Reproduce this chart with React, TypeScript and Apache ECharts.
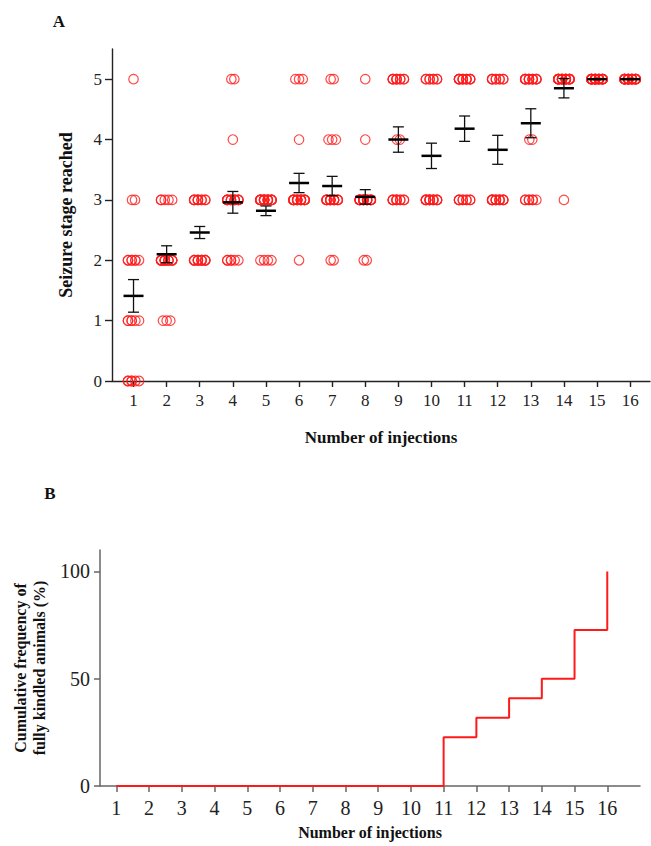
import React, { useEffect, useRef } from "react";
import * as echarts from "echarts";

const injections = [1, 2, 3, 4, 5, 6, 7, 8, 9, 10, 11, 12, 13, 14, 15, 16];
const stages = [0, 1, 2, 3, 4, 5];
// number of animals at each seizure stage (0..5) for each injection
const stageCounts = [
  [6, 6, 7, 2, 0, 1],
  [0, 3, 14, 5, 0, 0],
  [0, 0, 12, 10, 0, 0],
  [0, 0, 6, 13, 1, 2],
  [0, 0, 4, 18, 0, 0],
  [0, 0, 1, 17, 1, 3],
  [0, 0, 2, 15, 3, 2],
  [0, 0, 2, 18, 1, 1],
  [0, 0, 0, 10, 2, 10],
  [0, 0, 0, 14, 0, 8],
  [0, 0, 0, 9, 0, 13],
  [0, 0, 0, 13, 0, 9],
  [0, 0, 0, 7, 2, 13],
  [0, 0, 0, 1, 0, 21],
  [0, 0, 0, 0, 0, 22],
  [0, 0, 0, 0, 0, 22],
];
const meanStage = [1.41, 2.1, 2.46, 2.96, 2.82, 3.28, 3.23, 3.05, 4.0, 3.73, 4.18, 3.83, 4.27, 4.85, 5, 5];
const semStage = [0.27, 0.14, 0.1, 0.18, 0.08, 0.16, 0.16, 0.12, 0.21, 0.21, 0.21, 0.24, 0.24, 0.16, 0, 0];
const cumulativePct = [0, 0, 0, 0, 0, 0, 0, 0, 0, 0, 22.7, 31.8, 40.9, 50, 72.7, 100];
const stageTicks = [0, 1, 2, 3, 4, 5];
const pctTicks = [0, 50, 100];

const SERIF = "'Liberation Serif', 'Times New Roman', serif";
const RED = "#ff1a1a";

export default function App() {
  const ref = useRef<HTMLDivElement>(null);
  useEffect(() => {
    if (!ref.current) return;
    const chart = echarts.init(ref.current, null, { renderer: "svg" });

    // scatter points, spread horizontally over a few slots within each stage cluster
    const unitPx = 538 / (16.6 - 0.35);
    const points: number[][] = [];
    stageCounts.forEach((counts, i) => {
      counts.forEach((n, s) => {
        if (n <= 0) return;
        const slots = Math.min(n, 4);
        const gap = n === 2 ? 3 : 3.7;
        const spanPx = (slots - 1) * gap;
        for (let k = 0; k < n; k++) {
          const slot = k % slots;
          const off = slots <= 1 ? 0 : -spanPx / 2 + slot * gap;
          points.push([injections[i] + off / unitPx, stages[s]]);
        }
      });
    });

    const errData = injections.map((x, i) => [x, meanStage[i], semStage[i]]);
    const stepData = injections.map((x, i) => [x, cumulativePct[i]]);

    const axisCommonA = {
      axisLine: { show: true, onZero: false, lineStyle: { color: "#222", width: 1.4 } },
      splitLine: { show: false },
    };
    const axisCommonB = {
      axisLine: { show: true, onZero: false, lineStyle: { color: "#666", width: 1.5 } },
      splitLine: { show: false },
    };

    const option = {
      animation: false,
      grid: [
        { left: 112, top: 49, width: 538, height: 332 },
        { left: 100, top: 550, width: 540, height: 236 },
      ],
      xAxis: [
        {
          gridIndex: 0,
          type: "value",
          min: 0.35,
          max: 16.6,
          ...axisCommonA,
          axisTick: { show: true, customValues: injections, length: 6, lineStyle: { color: "#222", width: 1.4 } },
          axisLabel: { customValues: injections, fontSize: 17, color: "#222", fontFamily: SERIF, margin: 11 },
        },
        {
          gridIndex: 1,
          type: "value",
          min: 0.5,
          max: 17,
          ...axisCommonB,
          axisTick: { show: true, customValues: injections, length: 6, lineStyle: { color: "#666", width: 1.5 } },
          axisLabel: { customValues: injections, fontSize: 20, color: "#222", fontFamily: SERIF, margin: 12 },
        },
      ],
      yAxis: [
        {
          gridIndex: 0,
          type: "value",
          min: 0,
          max: 5.5,
          ...axisCommonA,
          axisTick: { show: true, customValues: stageTicks, length: 7, lineStyle: { color: "#222", width: 1.4 } },
          axisLabel: { customValues: stageTicks, fontSize: 17, color: "#222", fontFamily: SERIF, margin: 10 },
        },
        {
          gridIndex: 1,
          type: "value",
          min: 0,
          max: 110,
          ...axisCommonB,
          axisTick: { show: true, customValues: pctTicks, length: 6, lineStyle: { color: "#666", width: 1.5 } },
          axisLabel: { customValues: pctTicks, fontSize: 20, color: "#222", fontFamily: SERIF, margin: 10 },
        },
      ],
      series: [
        {
          type: "scatter",
          xAxisIndex: 0,
          yAxisIndex: 0,
          data: points,
          symbol: "circle",
          symbolSize: 9.5,
          itemStyle: { color: "rgba(0,0,0,0)", borderColor: RED, borderWidth: 1.2 },
          z: 2,
        },
        {
          type: "custom",
          xAxisIndex: 0,
          yAxisIndex: 0,
          data: errData,
          z: 5,
          encode: { x: 0, y: 1 },
          renderItem: (_params: any, api: any) => {
            const x = api.value(0);
            const m = api.value(1);
            const s = api.value(2);
            const c = api.coord([x, m]);
            const children: any[] = [
              {
                type: "line",
                shape: { x1: c[0] - 10, y1: c[1], x2: c[0] + 10, y2: c[1] },
                style: { stroke: "#000", lineWidth: 2.5 },
              },
            ];
            if (s > 0) {
              const hi = api.coord([x, m + s]);
              const lo = api.coord([x, m - s]);
              children.push(
                { type: "line", shape: { x1: c[0], y1: hi[1], x2: c[0], y2: lo[1] }, style: { stroke: "#111", lineWidth: 1.3 } },
                { type: "line", shape: { x1: c[0] - 5.5, y1: hi[1], x2: c[0] + 5.5, y2: hi[1] }, style: { stroke: "#111", lineWidth: 1.3 } },
                { type: "line", shape: { x1: c[0] - 5.5, y1: lo[1], x2: c[0] + 5.5, y2: lo[1] }, style: { stroke: "#111", lineWidth: 1.3 } }
              );
            }
            return { type: "group", children };
          },
        },
        {
          type: "line",
          xAxisIndex: 1,
          yAxisIndex: 1,
          data: stepData,
          step: "end",
          symbol: "none",
          lineStyle: { color: RED, width: 2 },
          z: 3,
        },
      ],
      graphic: [
        { type: "text", x: 59, y: 21, style: { text: "A", font: `bold 17px ${SERIF}`, fill: "#111", align: "center", verticalAlign: "middle" } },
        { type: "text", x: 50, y: 493, style: { text: "B", font: `bold 17px ${SERIF}`, fill: "#111", align: "center", verticalAlign: "middle" } },
        {
          type: "text",
          x: 66,
          y: 215,
          rotation: Math.PI / 2,
          style: { text: "Seizure stage reached", font: `bold 18px ${SERIF}`, fill: "#111", align: "center", verticalAlign: "middle" },
        },
        {
          type: "text",
          x: 381,
          y: 437,
          style: { text: "Number of injections", font: `bold 17px ${SERIF}`, fill: "#111", align: "center", verticalAlign: "middle" },
        },
        {
          type: "text",
          x: 30,
          y: 668,
          rotation: Math.PI / 2,
          style: {
            text: "Cumulative frequency of\nfully kindled animals (%)",
            font: `bold 16px ${SERIF}`,
            lineHeight: 19,
            fill: "#111",
            align: "center",
            verticalAlign: "middle",
          },
        },
        {
          type: "text",
          x: 370,
          y: 832,
          style: { text: "Number of injections", font: `bold 16px ${SERIF}`, fill: "#111", align: "center", verticalAlign: "middle" },
        },
      ],
    };
    chart.setOption(option as any);
    return () => chart.dispose();
  }, []);
  return <div ref={ref} style={{ position: "absolute", left: 0, top: 0, width: 651, height: 846 }} />;
}
